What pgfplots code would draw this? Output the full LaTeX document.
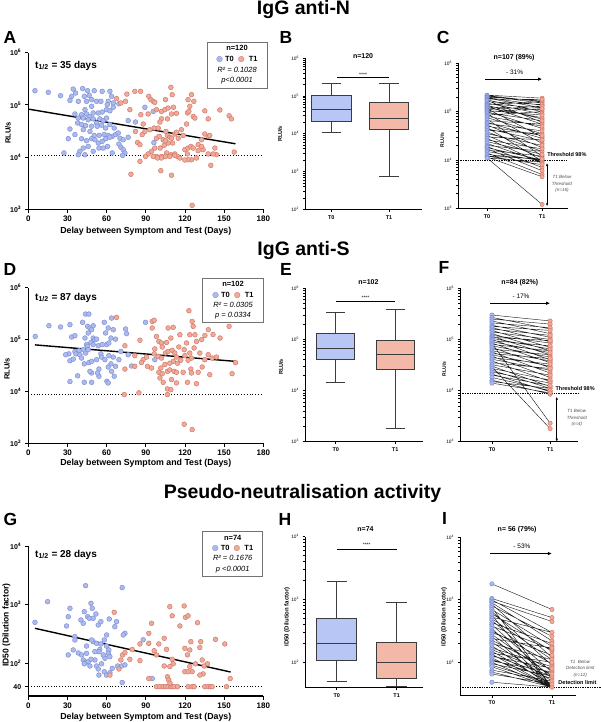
\documentclass[border=0pt]{standalone}
\usepackage{pgfplots}
\pgfplotsset{compat=1.18}
\usepackage{fontspec}
\setmainfont{Liberation Sans}
\newfontfamily\dejavu{DejaVu Sans}
\usetikzlibrary{arrows.meta}
\definecolor{t0fill}{RGB}{172,186,238}
\definecolor{t0edge}{RGB}{122,140,212}
\definecolor{t1fill}{RGB}{240,170,154}
\definecolor{t1edge}{RGB}{208,118,102}
\definecolor{boxt0}{RGB}{183,198,244}
\definecolor{boxt1}{RGB}{243,184,168}
\definecolor{boxedge}{RGB}{60,60,60}
\newcommand\fsz[2]{\fontsize{#1}{#2}\selectfont}
\newcommand\legdot[2]{\makebox[0pt][l]{\dejavu\color{#1}●}{\dejavu\color{#2}○}}
\pgfplotsset{
  prism/.style={scale only axis, anchor=south west, axis lines*=left,
    axis line style={line width=1.3pt,-}, tick style={line width=0.9pt,black},
    tick align=outside, major tick length=3.5pt, minor tick length=1.6pt, clip=false,
    /pgf/number format/assume math mode=true, unbounded coords=jump},
  scat/.style={prism, xmin=0, xmax=180, xtick={0,30,...,180}, yminorticks=false,
    xticklabel style={font=\bfseries\fsz{8}{9}},
    yticklabel style={font=\bfseries\fsz{7}{8}}},
  small/.style={prism, axis line style={line width=1pt,-}, tick style={line width=0.7pt,black},
    major tick length=2.5pt,
    xticklabel style={font=\bfseries\fsz{5.5}{6}},
    yticklabel style={font=\fsz{4.8}{5}}},
  t0mark/.style={only marks, mark=*, mark size=2.4pt, mark options={fill=t0fill, draw=t0edge, line width=0.45pt}},
  t1mark/.style={only marks, mark=*, mark size=2.4pt, mark options={fill=t1fill, draw=t1edge, line width=0.45pt}},
  pairline/.style={black!90, line width=0.42pt, mark=none},
  boxline/.style={draw=boxedge, line width=0.9pt, mark=none},
  regline/.style={black, line width=1.4pt, mark=none},
  thr/.style={black, dotted, line width=0.8pt, mark=none},
  thrs/.style={black, dash pattern=on 1.4pt off 1pt, line width=0.6pt, mark=none},
}
\begin{document}
\begin{tikzpicture}
\path[use as bounding box] (0,0) rectangle (600pt,-722pt);
% ---------- titles and panel letters ----------
\node[anchor=base, font=\bfseries\fsz{19.5}{22}] at (303.5pt,-15pt) {IgG anti-N};
\node[anchor=base, font=\bfseries\fsz{19.5}{22}] at (303.5pt,-255pt) {IgG anti-S};
\node[anchor=base, font=\bfseries\fsz{19.5}{22}] at (302.5pt,-498pt) {Pseudo-neutralisation activity};
\foreach \L/\x/\y in {A/3.3/43.3, B/279.3/43.3, C/436.7/43.3, D/3.3/275, E/280/275, F/438.3/273.3, G/3.3/525, H/278.3/525, I/442/524}
  \node[anchor=base west, inner sep=0pt, font=\bfseries\fsz{17.5}{20}] at (\x pt,-\y pt) {\L};
% ---------- axis labels ----------
\foreach \y in {231,463,717}
  \node[font=\bfseries\fsz{8.8}{10}] at (145.8pt,-\y pt) {Delay between Symptom and Test (Days)};
\node[rotate=90, font=\bfseries\fsz{7.5}{8}] at (8pt,-133pt) {RLU/s};
\node[rotate=90, font=\bfseries\fsz{7.5}{8}] at (7pt,-369pt) {RLU/s};
\node[rotate=90, font=\bfseries\fsz{8.5}{9}] at (6.5pt,-625pt) {ID50 (Dilution factor)};
\node[rotate=90, font=\bfseries\fsz{5.5}{6}] at (280pt,-134pt) {RLU/s};
\node[rotate=90, font=\bfseries\fsz{5.5}{6}] at (281pt,-367pt) {RLU/s};
\node[rotate=90, font=\bfseries\fsz{6}{7}] at (287pt,-617pt) {ID50 (Dilution factor)};
\node[rotate=90, font=\bfseries\fsz{5}{6}] at (442pt,-140pt) {RLU/s};
\node[rotate=90, font=\bfseries\fsz{5}{6}] at (444pt,-369pt) {RLU/s};
\node[rotate=90, font=\bfseries\fsz{6}{7}] at (444pt,-617pt) {ID50 (Dilution factor)};
% ---------- t1/2 and legends ----------
\node[anchor=base west, inner sep=0pt, font=\bfseries\fsz{10}{12}] at (35pt,-68.3pt) {t\textsubscript{1/2} = 35 days};
\node[anchor=base west, inner sep=0pt, font=\bfseries\fsz{10}{12}] at (35pt,-300pt) {t\textsubscript{1/2} = 87 days};
\node[anchor=base west, inner sep=0pt, font=\bfseries\fsz{10}{12}] at (35pt,-557.3pt) {t\textsubscript{1/2} = 28 days};
\node[draw=black!55, line width=0.7pt, fill=white, align=center, inner sep=1pt, minimum width=60pt, minimum height=46pt, font=\fsz{7.5}{10.6}] at (237pt,-65pt)
  {\textbf{n=120}\\ \legdot{t0fill}{t0edge}\ \textbf{T0}\ \ \legdot{t1fill}{t1edge}\ \ \textbf{T1}\\ \textit{R² = 0.1028}\\ \textit{p<0.0001}};
\node[draw=black!55, line width=0.7pt, fill=white, align=center, inner sep=1pt, minimum width=60.6pt, minimum height=44.4pt, font=\fsz{7.5}{10.4}] at (233pt,-300.5pt)
  {\textbf{n=102}\\ \legdot{t0fill}{t0edge}\ \textbf{T0}\ \ \legdot{t1fill}{t1edge}\ \ \textbf{T1}\\ \textit{R² = 0.0305}\\ \textit{p = 0.0334}};
\node[draw=black!55, line width=0.7pt, fill=white, align=center, inner sep=1pt, minimum width=60pt, minimum height=44.3pt, font=\fsz{7.5}{10.4}] at (232.7pt,-553.8pt)
  {\textbf{n=74}\\ \legdot{t0fill}{t0edge}\ \textbf{T0}\ \ \legdot{t1fill}{t1edge}\ \ \textbf{T1}\\ \textit{R² = 0.1676}\\ \textit{p <0.0001}};

% ================= A =================
\begin{axis}[scat, at={(28.3pt,-209.3pt)}, width=235pt, height=156.6pt,
  ymode=log, ymin=1e3, ymax=1e6, ytick={1e3,1e4,1e5,1e6},
  yticklabels={10\textsuperscript{3},10\textsuperscript{4},10\textsuperscript{5},10\textsuperscript{6}}]
\addplot[thr] coordinates {(0,1.07e4) (180,1.07e4)};
\addplot[t0mark] coordinates {(5.1,1.87e5) (15.3,1.74e5) (24.7,1.50e5) (34.4,2.01e5) (41.6,2.05e5) (45.4,1.87e5) (50.5,1.87e5) (56.6,1.82e5) (62.5,1.82e5) (33.2,1.46e5) (36.2,1.69e5) (31.9,1.22e5) (38.3,1.17e5) (42.9,1.46e5) (44.6,1.17e5) (46.7,1.52e5) (48.5,1.26e5) (52.3,1.17e5) (55.6,1.17e5) (61.2,1.17e5) (63.8,1.46e5) (65.1,1.09e5) (60.5,1.01e5) (69.4,1.05e5) (48.5,9.4e4) (43.4,8.1e4) (40.8,6.5e4) (44.6,6.7e4) (47.2,6.0e4) (49.7,7.0e4) (53.6,7.0e4) (56.6,7.3e4) (59.9,8.1e4) (62.5,7.7e4) (65.1,9.0e4) (35.7,6.7e4) (38.3,5.6e4) (42.1,5.6e4) (45.9,5.2e4) (49.7,5.4e4) (52.3,4.5e4) (54.8,5.4e4) (57.4,5.0e4) (59.9,5.6e4) (37.8,4.5e4) (40.8,4.2e4) (43.9,4.0e4) (48.5,3.9e4) (52.8,3.9e4) (56.1,4.1e4) (59.2,3.6e4) (62.5,4.2e4) (65.8,3.6e4) (31.9,3.45e4) (35.7,2.7e4) (42.1,3.35e4) (47.2,3.1e4) (50.5,2.6e4) (54.3,2.6e4) (58.2,2.7e4) (61.2,2.6e4) (64.3,2.5e4) (66.8,2.7e4) (68.9,2.9e4) (76.5,5.0e4) (82.1,4.7e4) (89.3,9.0e4) (95.7,7.5e4) (30.6,2.25e4) (40.8,2.25e4) (44.6,2.06e4) (48.5,2.25e4) (51,2.15e4) (53.6,1.86e4) (56.6,2.0e4) (59.4,2.25e4) (62.5,2.4e4) (70.2,2.3e4) (72.7,2.15e4) (45.9,1.6e4) (42.1,1.49e4) (39.5,1.29e4) (38.3,1.11e4) (43.4,1.11e4) (27.3,1.2e4) (49.7,1.29e4) (54.1,1.49e4) (57.4,1.49e4) (60.7,1.6e4) (64.3,1.2e4) (69.4,1.78e4) (70.9,1.54e4) (72.7,1.39e4) (74,1.2e4) (72.2,1.08e4) (76.5,2.4e4) (96.2,1.9e4)};
\addplot[t1mark] coordinates {(67.6,1.32e5) (70.9,1.09e5) (74.5,1.17e5) (75.5,1.61e5) (81.6,1.82e5) (86,1.82e5) (77.8,8.1e4) (86.2,6.5e4) (88,4.3e4) (82.1,3.1e4) (87.2,2.7e4) (83.7,1.9e4) (92.3,1.46e5) (93.9,1.26e5) (95.7,1.17e5) (96.9,1.12e5) (98.2,8.1e4) (102,7.5e4) (104.6,8.1e4) (107.1,8.7e4) (109.2,2.17e5) (110.2,1.57e5) (105.1,1.26e5) (111.2,9.0e4) (113.5,6.9e4) (109.7,6.7e4) (106.6,5.4e4) (102,5.4e4) (100.8,4.7e4) (96.4,3.6e4) (98.2,2.3e4) (100.3,2.5e4) (103.3,2.15e4) (105.4,3.1e4) (106.6,2.6e4) (108.4,2.4e4) (109.7,2.3e4) (112.2,2.77e4) (113.5,3.0e4) (110.5,1.86e4) (107.1,1.86e4) (104.1,1.68e4) (101,1.49e4) (96.9,1.49e4) (94.4,1.29e4) (98.2,1.03e4) (102,1.03e4) (105.9,1.2e4) (109.2,1.11e4) (112.2,1.15e4) (114.3,1.03e4) (117.3,3.35e4) (118.6,2.6e4) (121.2,4.3e4) (122.4,1.26e5) (123.7,9.4e4) (121.9,7.0e4) (125,1.57e5) (126.8,1.17e5) (126.3,6.0e4) (127.6,5.6e4) (123,7.5e4) (119.9,1.39e4) (122.4,1.49e4) (124.5,1.6e4) (126.3,1.49e4) (130.1,1.73e4) (132.7,2.15e4) (135.2,2.77e4) (137.8,2.5e4) (139,2.6e4) (142.9,1.49e4) (144.1,1.11e4) (141.6,1.15e4) (137.8,1.15e4) (133.9,1.39e4) (128.8,9.6e3) (125,8.9e3) (122.4,8.9e3) (119.9,8.8e3) (116.1,9.6e3) (112.2,1.08e4) (108.4,1.03e4) (105.1,1.03e4) (102,9.6e3) (99,9.6e3) (95.7,1.03e4) (91.8,1.15e4) (89.8,1.03e4) (85.5,8.3e3) (78.6,4.7e3) (101.5,5.5e3) (109.7,4.5e3) (125.5,1.19e3) (139.8,6.95e3) (135.2,7.7e4) (137.8,5.4e4) (146.7,8.0e4) (153.8,6.2e4) (155.6,5.4e4) (157.7,1.25e4) (121.9,1.15e4) (132.7,1.6e4) (130.1,1.33e4) (114.8,2.3e4) (105.1,2.06e4) (93.1,3.35e4) (99.5,3.6e4) (91.8,6.7e4) (89.3,3.1e4) (85.5,1.73e4)};
\addplot[regline] coordinates {(0,8.3e4) (158.7,1.8e4)};
\end{axis}

% ================= D =================
\begin{axis}[scat, at={(28.3pt,-443.3pt)}, width=235pt, height=155.6pt,
  ymode=log, ymin=1e3, ymax=1e6, ytick={1e3,1e4,1e5,1e6},
  yticklabels={10\textsuperscript{3},10\textsuperscript{4},10\textsuperscript{5},10\textsuperscript{6}}]
\addplot[thr] coordinates {(0,8.8e3) (180,8.8e3)};
\addplot[t0mark] coordinates {(5.3,1.15e5) (15.8,1.85e5) (24.7,1.75e5) (31.9,1.94e5) (33.2,1.12e5) (35.7,1.19e5) (41.6,2.15e5) (43.9,3.1e5) (46.4,3.1e5) (45.4,1.8e5) (47.2,1.67e5) (48.5,1.55e5) (49.7,1.85e5) (45.9,1.34e5) (43.4,1.07e5) (49.7,1.07e5) (51,9.96e4) (52.3,1.02e5) (48,8.8e4) (44.6,8.0e4) (45.4,7.4e4) (42.1,6.4e4) (38.8,6.1e4) (35.7,5.9e4) (31.1,5.3e4) (28.6,5.1e4) (36.5,5.3e4) (39.5,5.1e4) (43.9,5.5e4) (45.9,6.4e4) (49.7,8.0e4) (53.6,7.6e4) (56.6,8.0e4) (59.9,8.0e4) (61.7,8.6e4) (63.8,2.6e5) (58.2,2.15e5) (61.2,1.67e5) (59.2,1.34e5) (65.1,1.55e5) (63.3,1.07e5) (66.8,1.02e5) (70.9,5.9e4) (76.5,5.1e4) (75.3,1.3e5) (74.5,1.6e5) (89.8,2.15e5) (55.6,5.3e4) (56.1,4.6e4) (61.7,4.9e4) (65.1,4.6e4) (31.9,3.9e4) (34.4,4.2e4) (40.8,4.4e4) (42.9,3.4e4) (46.4,3.6e4) (48.5,3.8e4) (52.3,4.1e4) (58.7,4.1e4) (63.3,3.4e4) (66.8,3.05e4) (69.4,4.1e4) (79.1,3.1e4) (96.9,4.1e4) (54.1,2.7e4) (61.2,2.96e4) (63.8,2.44e4) (65.8,1.96e4) (60.2,1.57e4) (61.2,1.46e4) (54.1,1.96e4) (48.5,2.27e4) (42.9,1.5e4) (37.8,2.0e4) (31.9,1.55e4) (48.5,1.5e4) (53.1,2.27e4) (47.2,2.44e4)};
\addplot[t1mark] coordinates {(67.6,2.68e5) (74,7.6e4) (81.6,4.9e4) (74,2.7e4) (73.5,8.7e3) (84.7,9.4e3) (85.5,9.7e4) (88,4.1e4) (90.6,4.6e4) (94.9,2.24e5) (96.4,2.35e5) (94.9,1.67e5) (98.2,1.15e5) (100,9.2e4) (102,8.6e4) (105.9,8.8e4) (109.2,1.07e5) (111,1.72e5) (107.1,1.67e5) (102.6,7.2e4) (96.9,6.6e4) (96.4,5.3e4) (99.5,4.75e4) (102,4.4e4) (105.1,5.5e4) (107.1,5.9e4) (110.2,6.2e4) (112.2,5.5e4) (113.5,4.6e4) (115.3,7.2e4) (116.1,1.24e5) (119.4,6.4e4) (121.2,8.6e4) (123.7,1.24e5) (123,3.6e5) (125.5,2.24e5) (126.3,1.8e5) (127.6,1.24e5) (128.8,9.2e4) (131.4,5.5e4) (127,6.9e4) (123.7,5.5e4) (125,4.4e4) (122.4,4.0e4) (119.9,4.9e4) (116.8,4.0e4) (114.3,3.5e4) (111,3.8e4) (108.4,3.5e4) (104.6,3.3e4) (101.5,2.83e4) (100,2.34e4) (102.6,2.2e4) (106.6,2.44e4) (108.4,2.6e4) (111.7,2.44e4) (113.5,2.34e4) (118.6,2.34e4) (124.5,2.7e4) (125,2.27e4) (130.1,2.34e4) (133.2,2.96e4) (135.2,4.1e4) (137.8,5.1e4) (140.8,4.4e4) (144.1,4.6e4) (146.9,1.07e5) (153.8,1.8e5) (158.7,3.6e4) (156.1,2.2e4) (139,2.1e4) (128.8,1.41e4) (121.9,1.5e4) (113.5,1.46e4) (109.7,1.69e4) (106.6,1.12e4) (109.2,1.08e4) (103.3,1.5e4) (100.8,1.82e4) (94.4,2.83e4) (91.3,3.05e4) (86.7,3.6e4) (81.6,3.05e4) (119.4,2.33e3) (125.5,1.84e3) (106.6,8.7e3) (132.8,1.0e5) (135.3,1.2e5) (137.9,1.55e5) (141.5,1.25e5)};
\addplot[regline] coordinates {(5.1,7.9e4) (158.7,3.8e4)};
\end{axis}

% ================= G =================
\begin{axis}[scat, at={(28.3pt,-696pt)}, width=235pt, height=150pt,
  ymode=log, ymin=27.7, ymax=1e4, ytick={40,100,1000,10000},
  yticklabels={40,10\textsuperscript{2},10\textsuperscript{3},10\textsuperscript{4}}]
\addplot[thr] coordinates {(0,40) (180,40)};
\addplot[t0mark] coordinates {(5.1,500) (14.8,1125) (29.3,433) (30.6,624) (31.9,867) (35.7,285) (34.4,169) (30.6,139) (40.3,548) (42.1,481) (42.9,760) (43.9,2110) (45.4,624) (46.7,585) (48,1054) (49,867) (49.7,585) (51.8,693) (53.6,450) (55.6,513) (62,570) (67.6,513) (66.3,422) (60,304) (71.9,1950) (74,325) (72.7,304) (49.7,234) (44.6,197) (48.5,250) (52.3,219) (55.6,214) (54.8,173) (58.2,250) (59.9,197) (61.7,169) (61.2,148) (62.5,130) (58.7,122) (54.1,158) (51,158) (42.1,114) (43.9,103) (45.9,107) (47.2,90) (42.9,98) (52.3,90) (53.6,80) (54.1,63) (58.2,72) (59.9,63) (62.5,69) (64.3,82) (68.4,90) (71.4,90) (74,94) (71.9,47) (88,252) (94.9,55) (35.7,250) (38.3,150) (40.8,139) (44.6,148) (57.4,139) (51,114) (56.1,98) (48,117)};
\addplot[t1mark] coordinates {(65.8,740) (62.5,63) (69.4,80) (70.9,114) (72.2,139) (74,152) (77.8,117) (79.6,172) (85.5,111) (85.5,214) (92.3,219) (92.3,325) (94.4,481) (96.4,164) (98.2,139) (100,214) (104.1,267) (104.1,90) (105.9,173) (108.4,925) (110.2,646) (116.1,433) (119.4,950) (120.4,609) (122.4,646) (124.5,234) (123.7,169) (121.9,139) (119.9,180) (119.9,72) (110.2,117) (111,98) (108.4,88) (123.7,88) (125.5,72) (122.4,72) (128,98) (129.6,493) (132.1,234) (131.4,186) (133.2,114) (134.7,90) (133.9,66) (131.4,63) (137.2,98) (143.4,256) (150.5,214) (154.6,55) (92.3,55) (98.2,40) (100.8,40) (103.3,40) (105.1,40) (107.1,40) (109.2,40) (110.2,40) (111.7,40) (114.3,40) (122.4,40) (125.5,40) (127,40) (135.2,40) (137.8,40) (139.8,40) (140.8,40) (151.8,40) (106.6,59) (107.5,52) (108.5,46)};
\addplot[regline] coordinates {(5.1,395) (155,71)};
\end{axis}

% ================= B =================
\begin{axis}[small, at={(305pt,-209.3pt)}, width=117pt, height=151pt,
  xmin=0.544, xmax=2.57, xtick={1,2}, xticklabels={T0,T1},
  ymode=log, ymin=1e2, ymax=1e6, ytick={1e2,1e3,1e4,1e5,1e6},
  yticklabels={10\textsuperscript{2},10\textsuperscript{3},10\textsuperscript{4},10\textsuperscript{5},10\textsuperscript{6}}]
\addplot[boxline] coordinates {(1,1.03e5) (1,2.18e5) (nan,nan) (0.83,2.18e5) (1.17,2.18e5) (nan,nan) (1,2.19e4) (1,1.1e4) (nan,nan) (0.83,1.1e4) (1.17,1.1e4)};
\addplot[boxline, fill=boxt0] coordinates {(0.66,2.19e4) (1.34,2.19e4) (1.34,1.03e5) (0.66,1.03e5)} -- cycle;
\addplot[boxline] coordinates {(0.66,4.46e4) (1.34,4.46e4)};
\addplot[boxline] coordinates {(2,6.7e4) (2,2.18e5) (nan,nan) (1.83,2.18e5) (2.17,2.18e5) (nan,nan) (2,1.34e4) (2,733) (nan,nan) (1.83,733) (2.17,733)};
\addplot[boxline, fill=boxt1] coordinates {(1.66,1.34e4) (2.34,1.34e4) (2.34,6.7e4) (1.66,6.7e4)} -- cycle;
\addplot[boxline] coordinates {(1.66,2.57e4) (2.34,2.57e4)};
\addplot[black, line width=0.7pt, mark=none] coordinates {(1.1,3.08e5) (2,3.08e5)};
\node[font=\fsz{5}{5}] at (axis cs:1.55,3.6e5) {****};
\node[font=\bfseries\fsz{7}{8}] at (axis cs:1.55,1.15e6) {n=120};
\end{axis}

% ================= E =================
\begin{axis}[small, at={(305pt,-441.7pt)}, width=118pt, height=153.4pt,
  xmin=0.48, xmax=2.47, xtick={1,2}, xticklabels={T0,T1},
  ymode=log, ymin=1e3, ymax=1e6, ytick={1e3,1e4,1e5,1e6},
  yticklabels={10\textsuperscript{3},10\textsuperscript{4},10\textsuperscript{5},10\textsuperscript{6}}]
\addplot[boxline] coordinates {(1,1.3e5) (1,3.3e5) (nan,nan) (0.84,3.3e5) (1.16,3.3e5) (nan,nan) (1,4.0e4) (1,1.45e4) (nan,nan) (0.84,1.45e4) (1.16,1.45e4)};
\addplot[boxline, fill=boxt0] coordinates {(0.68,4.0e4) (1.32,4.0e4) (1.32,1.3e5) (0.68,1.3e5)} -- cycle;
\addplot[boxline] coordinates {(0.68,6.6e4) (1.32,6.6e4)};
\addplot[boxline] coordinates {(2,9.5e4) (2,3.8e5) (nan,nan) (1.84,3.8e5) (2.16,3.8e5) (nan,nan) (2,2.6e4) (2,1.85e3) (nan,nan) (1.84,1.85e3) (2.16,1.85e3)};
\addplot[boxline, fill=boxt1] coordinates {(1.68,2.6e4) (2.32,2.6e4) (2.32,9.5e4) (1.68,9.5e4)} -- cycle;
\addplot[boxline] coordinates {(1.68,5.0e4) (2.32,5.0e4)};
\addplot[black, line width=0.7pt, mark=none] coordinates {(1,5.5e5) (2,5.5e5)};
\node[font=\fsz{5}{5}] at (axis cs:1.5,6.5e5) {****};
\node[font=\bfseries\fsz{7}{8}] at (axis cs:1.55,1.3e6) {n=102};
\end{axis}

% ================= H =================
\begin{axis}[small, at={(305pt,-687.8pt)}, width=118pt, height=151.1pt,
  xmin=0.47, xmax=2.44, xtick={1,2}, xticklabels={T0,T1},
  ymode=log, ymin=40, ymax=1e4, ytick={100,1000,10000},
  yticklabels={10\textsuperscript{2},10\textsuperscript{3},10\textsuperscript{4}}]
\addplot[boxline] coordinates {(1,500) (1,1940) (nan,nan) (0.83,1940) (1.17,1940) (nan,nan) (1,107) (1,50) (nan,nan) (0.83,50) (1.17,50)};
\addplot[boxline, fill=boxt0] coordinates {(0.665,107) (1.335,107) (1.335,500) (0.665,500)} -- cycle;
\addplot[boxline] coordinates {(0.665,200) (1.335,200)};
\addplot[boxline] coordinates {(2,210) (2,890) (nan,nan) (1.83,890) (2.17,890) (nan,nan) (2,57) (2,42) (nan,nan) (1.83,42) (2.17,42)};
\addplot[boxline, fill=boxt1] coordinates {(1.665,57) (2.335,57) (2.335,210) (1.665,210)} -- cycle;
\addplot[boxline] coordinates {(1.665,101) (2.335,101)};
\addplot[black, line width=0.7pt, mark=none] coordinates {(1,6300) (2,6300)};
\node[font=\fsz{5}{5}] at (axis cs:1.5,7400) {****};
\node[font=\bfseries\fsz{7}{8}] at (axis cs:1.48,1.3e4) {n=74};
\end{axis}

% ================= C =================
\begin{axis}[small, at={(458pt,-208.3pt)}, width=110pt, height=145pt,
  xmin=-0.527, xmax=1.47, xtick={0,1}, xticklabels={T0,T1},
  ymode=log, ymin=1e3, ymax=1e6, ytick={1e3,1e4,1e5,1e6},
  yticklabels={10\textsuperscript{3},10\textsuperscript{4},10\textsuperscript{5},10\textsuperscript{6}}]
\addplot[thrs] coordinates {(-0.527,1e4) (1.47,1e4)};
\addplot[pairline] coordinates {(0,2.2e5)(1,1.9e5) (nan,nan) (0,2.15e5)(1,1.6e5) (nan,nan) (0,2.1e5)(1,1.5e5) (nan,nan) (0,2.0e5)(1,1.7e5) (nan,nan) (0,1.95e5)(1,1.35e5) (nan,nan) (0,1.9e5)(1,1.2e5) (nan,nan) (0,1.8e5)(1,1.8e5) (nan,nan) (0,1.75e5)(1,1.0e5) (nan,nan) (0,1.7e5)(1,6.0e4) (nan,nan) (0,1.6e5)(1,1.4e5) (nan,nan) (0,1.5e5)(1,9.0e4) (nan,nan) (0,1.45e5)(1,1.2e5) (nan,nan) (0,1.4e5)(1,1.6e5) (nan,nan) (0,1.35e5)(1,7.0e4) (nan,nan) (0,1.3e5)(1,5.5e4) (nan,nan) (0,1.25e5)(1,1.1e5) (nan,nan) (0,1.2e5)(1,7.5e4) (nan,nan) (0,1.15e5)(1,3.0e4) (nan,nan) (0,1.1e5)(1,1.3e5) (nan,nan) (0,1.05e5)(1,8.5e4) (nan,nan) (0,1.0e5)(1,4.5e4) (nan,nan) (0,1.0e5)(1,1.15e5) (nan,nan) (0,9.5e4)(1,6.5e4) (nan,nan) (0,9.0e4)(1,2.2e4) (nan,nan) (0,8.5e4)(1,1.0e5) (nan,nan) (0,8.0e4)(1,5.0e4) (nan,nan) (0,7.5e4)(1,3.5e4) (nan,nan) (0,7.0e4)(1,1.2e4) (nan,nan) (0,6.5e4)(1,5.5e4) (nan,nan) (0,6.0e4)(1,2.8e4) (nan,nan) (0,5.7e4)(1,4.0e4) (nan,nan) (0,5.3e4)(1,1.8e4) (nan,nan) (0,5.0e4)(1,3.2e4) (nan,nan) (0,4.7e4)(1,9.5e3) (nan,nan) (0,4.4e4)(1,2.5e4) (nan,nan) (0,4.1e4)(1,3.5e4) (nan,nan) (0,3.8e4)(1,1.5e4) (nan,nan) (0,3.5e4)(1,2.0e4) (nan,nan) (0,3.2e4)(1,1.1e4) (nan,nan) (0,3.0e4)(1,2.6e4) (nan,nan) (0,2.8e4)(1,8.5e3) (nan,nan) (0,2.6e4)(1,1.7e4) (nan,nan) (0,2.4e4)(1,1.3e4) (nan,nan) (0,2.2e4)(1,9.0e3) (nan,nan) (0,2.0e4)(1,1.5e4) (nan,nan) (0,1.9e4)(1,7.0e3) (nan,nan) (0,1.8e4)(1,1.0e4) (nan,nan) (0,1.7e4)(1,6.0e3) (nan,nan) (0,1.6e4)(1,1.2e4) (nan,nan) (0,1.5e4)(1,9.5e3) (nan,nan) (0,1.4e4)(1,5.0e3) (nan,nan) (0,1.3e4)(1,1.0e4) (nan,nan) (0,1.2e4)(1,8.0e3) (nan,nan) (0,1.15e4)(1,4.5e3) (nan,nan) (0,1.1e4)(1,9.0e3) (nan,nan) (0,1.1e4)(1,1.2e3) (nan,nan) (0,1.2e4)(1,1.05e4)};
\addplot[t0mark, mark size=2.1pt] coordinates {(0,2.2e5) (0,2.15e5) (0,2.1e5) (0,2.0e5) (0,1.95e5) (0,1.9e5) (0,1.8e5) (0,1.75e5) (0,1.7e5) (0,1.6e5) (0,1.5e5) (0,1.45e5) (0,1.4e5) (0,1.35e5) (0,1.3e5) (0,1.25e5) (0,1.2e5) (0,1.15e5) (0,1.1e5) (0,1.05e5) (0,1.0e5) (0,9.5e4) (0,9.0e4) (0,8.5e4) (0,8.0e4) (0,7.5e4) (0,7.0e4) (0,6.5e4) (0,6.0e4) (0,5.7e4) (0,5.3e4) (0,5.0e4) (0,4.7e4) (0,4.4e4) (0,4.1e4) (0,3.8e4) (0,3.5e4) (0,3.2e4) (0,3.0e4) (0,2.8e4) (0,2.6e4) (0,2.4e4) (0,2.2e4) (0,2.0e4) (0,1.9e4) (0,1.8e4) (0,1.7e4) (0,1.6e4) (0,1.5e4) (0,1.4e4) (0,1.3e4) (0,1.2e4) (0,1.15e4) (0,1.1e4)};
\addplot[t1mark, mark size=2.1pt] coordinates {(1,1.9e5) (1,1.6e5) (1,1.5e5) (1,1.7e5) (1,1.35e5) (1,1.2e5) (1,1.8e5) (1,1.0e5) (1,6.0e4) (1,1.4e5) (1,9.0e4) (1,7.0e4) (1,5.5e4) (1,1.1e5) (1,7.5e4) (1,3.0e4) (1,1.3e5) (1,8.5e4) (1,4.5e4) (1,1.15e5) (1,6.5e4) (1,2.2e4) (1,5.0e4) (1,3.5e4) (1,1.2e4) (1,2.8e4) (1,4.0e4) (1,1.8e4) (1,3.2e4) (1,9.5e3) (1,2.5e4) (1,1.5e4) (1,2.0e4) (1,1.1e4) (1,2.6e4) (1,8.5e3) (1,1.7e4) (1,1.3e4) (1,9.0e3) (1,7.0e3) (1,1.0e4) (1,6.0e3) (1,5.0e3) (1,8.0e3) (1,4.5e3) (1,1.2e3) (1,1.05e4)};
\addplot[-{Latex[length=4pt,width=3.5pt]}, line width=1pt, mark=none] coordinates {(-0.03,4.7e5) (1,4.7e5)};
\node[font=\fsz{6.5}{7}] at (axis cs:0.5,6.6e5) {- 31\%};
\node[font=\bfseries\fsz{7}{8}] at (axis cs:0.49,1.3e6) {n=107 (89\%)};
\node[anchor=west, inner sep=0pt, font=\bfseries\fsz{5.5}{6}] at (axis cs:1.09,1.27e4) {Threshold 98\%};
\addplot[{Latex[length=3pt,width=2.5pt]}-{Latex[length=3pt,width=2.5pt]}, line width=0.8pt, mark=none] coordinates {(1.09,8.65e3) (1.09,1.1e3)};
\node[align=center, font=\itshape\fsz{4.5}{6.5}, text=black!70] at (axis cs:1.36,3.2e3) {T1 Below\\Threshold\\(n=16)};
\end{axis}

% ================= F =================
\begin{axis}[small, at={(460pt,-441.7pt)}, width=118pt, height=153.4pt,
  xmin=-0.55, xmax=1.48, xtick={0,1}, xticklabels={T0,T1},
  ymode=log, ymin=1e3, ymax=1e6, ytick={1e3,1e4,1e5,1e6},
  yticklabels={10\textsuperscript{3},10\textsuperscript{4},10\textsuperscript{5},10\textsuperscript{6}}]
\addplot[thrs] coordinates {(-0.55,8.8e3) (1.48,8.8e3)};
\addplot[pairline] coordinates {(0,3.0e5)(1,2.3e5) (nan,nan) (0,2.7e5)(1,1.6e5) (nan,nan) (0,2.5e5)(1,2.0e5) (nan,nan) (0,2.3e5)(1,1.3e5) (nan,nan) (0,2.1e5)(1,1.7e5) (nan,nan) (0,1.9e5)(1,1.1e5) (nan,nan) (0,1.8e5)(1,1.5e5) (nan,nan) (0,1.7e5)(1,9.0e4) (nan,nan) (0,1.6e5)(1,1.2e5) (nan,nan) (0,1.5e5)(1,7.0e4) (nan,nan) (0,1.4e5)(1,1.0e5) (nan,nan) (0,1.3e5)(1,6.0e4) (nan,nan) (0,1.2e5)(1,8.5e4) (nan,nan) (0,1.15e5)(1,5.0e4) (nan,nan) (0,1.1e5)(1,9.5e4) (nan,nan) (0,1.05e5)(1,6.5e4) (nan,nan) (0,1.0e5)(1,4.0e4) (nan,nan) (0,9.5e4)(1,7.5e4) (nan,nan) (0,8.4e4)(1,2.3e3) (nan,nan) (0,9.0e4)(1,5.5e4) (nan,nan) (0,8.5e4)(1,3.5e4) (nan,nan) (0,8.0e4)(1,6.0e4) (nan,nan) (0,7.5e4)(1,4.5e4) (nan,nan) (0,7.0e4)(1,2.8e4) (nan,nan) (0,6.5e4)(1,5.0e4) (nan,nan) (0,6.0e4)(1,3.8e4) (nan,nan) (0,5.7e4)(1,2.2e4) (nan,nan) (0,5.3e4)(1,4.2e4) (nan,nan) (0,5.0e4)(1,3.0e4) (nan,nan) (0,4.7e4)(1,1.8e4) (nan,nan) (0,4.4e4)(1,3.3e4) (nan,nan) (0,4.1e4)(1,2.5e4) (nan,nan) (0,3.8e4)(1,1.5e4) (nan,nan) (0,3.5e4)(1,2.7e4) (nan,nan) (0,3.2e4)(1,2.0e4) (nan,nan) (0,2.9e4)(1,1.8e3) (nan,nan) (0,3.0e4)(1,1.2e4) (nan,nan) (0,2.7e4)(1,1.6e4) (nan,nan) (0,2.5e4)(1,1.1e4) (nan,nan) (0,2.3e4)(1,1.4e4) (nan,nan) (0,2.1e4)(1,9.5e3) (nan,nan) (0,2.0e4)(1,1.25e4) (nan,nan) (0,1.8e4)(1,1.0e4) (nan,nan) (0,1.6e4)(1,8.5e3) (nan,nan) (0,1.5e4)(1,1.1e4) (nan,nan) (0,1.4e4)(1,9.0e3)};
\addplot[t0mark, mark size=2.2pt] coordinates {(0,3.0e5) (0,2.7e5) (0,2.5e5) (0,2.3e5) (0,2.1e5) (0,1.9e5) (0,1.8e5) (0,1.7e5) (0,1.6e5) (0,1.5e5) (0,1.4e5) (0,1.3e5) (0,1.2e5) (0,1.15e5) (0,1.1e5) (0,1.05e5) (0,1.0e5) (0,9.5e4) (0,8.4e4) (0,9.0e4) (0,8.5e4) (0,8.0e4) (0,7.5e4) (0,7.0e4) (0,6.5e4) (0,6.0e4) (0,5.7e4) (0,5.3e4) (0,5.0e4) (0,4.7e4) (0,4.4e4) (0,4.1e4) (0,3.8e4) (0,3.5e4) (0,3.2e4) (0,2.9e4) (0,3.0e4) (0,2.7e4) (0,2.5e4) (0,2.3e4) (0,2.1e4) (0,2.0e4) (0,1.8e4) (0,1.6e4) (0,1.5e4) (0,1.4e4)};
\addplot[t1mark, mark size=2.2pt] coordinates {(1,2.3e5) (1,1.6e5) (1,2.0e5) (1,1.3e5) (1,1.7e5) (1,1.1e5) (1,1.5e5) (1,9.0e4) (1,1.2e5) (1,7.0e4) (1,1.0e5) (1,6.0e4) (1,8.5e4) (1,5.0e4) (1,9.5e4) (1,6.5e4) (1,4.0e4) (1,7.5e4) (1,2.3e3) (1,5.5e4) (1,3.5e4) (1,4.5e4) (1,2.8e4) (1,3.8e4) (1,2.2e4) (1,4.2e4) (1,3.0e4) (1,1.8e4) (1,3.3e4) (1,2.5e4) (1,1.5e4) (1,2.7e4) (1,2.0e4) (1,1.8e3) (1,1.2e4) (1,1.6e4) (1,1.1e4) (1,1.4e4) (1,9.5e3) (1,1.25e4) (1,1.0e4) (1,8.5e3) (1,9.0e3)};
\addplot[-{Latex[length=4pt,width=3.5pt]}, line width=1pt, mark=none] coordinates {(-0.03,5.1e5) (1,5.1e5)};
\node[font=\fsz{6.5}{7}] at (axis cs:0.5,6.9e5) {- 17\%};
\node[font=\bfseries\fsz{7}{8}] at (axis cs:0.48,1.29e6) {n=84 (82\%)};
\node[anchor=west, inner sep=0pt, font=\bfseries\fsz{5.5}{6}] at (axis cs:1.09,1.12e4) {Threshold 98\%};
\addplot[{Latex[length=3pt,width=2.5pt]}-{Latex[length=3pt,width=2.5pt]}, line width=0.8pt, mark=none] coordinates {(1.115,7.6e3) (1.115,1.0e3)};
\node[align=center, font=\itshape\fsz{4.5}{6.5}, text=black!70] at (axis cs:1.46,2.9e3) {T1 Below\\Threshold\\(n=4)};
\end{axis}

% ================= I =================
\begin{axis}[small, at={(460pt,-695pt)}, width=116pt, height=157.7pt,
  xmin=-0.53, xmax=1.4, xtick={0,1}, xticklabels={T0,T1},
  ymode=log, ymin=30, ymax=1e4, ytick={100,1000,10000},
  yticklabels={10\textsuperscript{2},10\textsuperscript{3},10\textsuperscript{4}}]
\addplot[thrs] coordinates {(-0.53,40) (1.82,40)};
\addplot[pairline] coordinates {(0,1800)(1,700) (nan,nan) (0,1050)(1,520) (nan,nan) (0,1000)(1,300) (nan,nan) (0,950)(1,450) (nan,nan) (0,900)(1,220) (nan,nan) (0,850)(1,120) (nan,nan) (0,800)(1,260) (nan,nan) (0,750)(1,40) (nan,nan) (0,700)(1,180) (nan,nan) (0,650)(1,90) (nan,nan) (0,600)(1,150) (nan,nan) (0,570)(1,40) (nan,nan) (0,530)(1,300) (nan,nan) (0,500)(1,110) (nan,nan) (0,470)(1,70) (nan,nan) (0,430)(1,200) (nan,nan) (0,400)(1,55) (nan,nan) (0,380)(1,160) (nan,nan) (0,350)(1,40) (nan,nan) (0,320)(1,95) (nan,nan) (0,300)(1,130) (nan,nan) (0,280)(1,60) (nan,nan) (0,260)(1,40) (nan,nan) (0,240)(1,170) (nan,nan) (0,225)(1,75) (nan,nan) (0,210)(1,50) (nan,nan) (0,200)(1,110) (nan,nan) (0,185)(1,40) (nan,nan) (0,170)(1,85) (nan,nan) (0,160)(1,65) (nan,nan) (0,150)(1,45) (nan,nan) (0,140)(1,100) (nan,nan) (0,135)(1,40) (nan,nan) (0,130)(1,60) (nan,nan) (0,125)(1,80) (nan,nan) (0,118)(1,40) (nan,nan) (0,110)(1,55) (nan,nan) (0,105)(1,70) (nan,nan) (0,100)(1,40) (nan,nan) (0,95)(1,60) (nan,nan) (0,90)(1,45) (nan,nan) (0,85)(1,40) (nan,nan) (0,75)(1,50) (nan,nan) (0,70)(1,40) (nan,nan) (0,65)(1,45) (nan,nan) (0,48)(1,40)};
\addplot[t0mark, mark size=2.2pt] coordinates {(0,1800) (0,1050) (0,1000) (0,950) (0,900) (0,850) (0,800) (0,750) (0,700) (0,650) (0,600) (0,570) (0,530) (0,500) (0,470) (0,430) (0,400) (0,380) (0,350) (0,320) (0,300) (0,280) (0,260) (0,240) (0,225) (0,210) (0,200) (0,185) (0,170) (0,160) (0,150) (0,140) (0,135) (0,130) (0,125) (0,118) (0,110) (0,105) (0,100) (0,95) (0,90) (0,85) (0,75) (0,70) (0,65) (0,48)};
\addplot[t1mark, mark size=2.2pt] coordinates {(1,700) (1,520) (1,300) (1,450) (1,220) (1,120) (1,260) (1,40) (1,180) (1,90) (1,150) (1,110) (1,70) (1,200) (1,55) (1,160) (1,95) (1,130) (1,60) (1,170) (1,75) (1,50) (1,85) (1,65) (1,45) (1,100) (1,80)};
\addplot[-{Latex[length=4pt,width=3.5pt]}, line width=1pt, mark=none] coordinates {(-0.03,5.5e3) (1,5.5e3)};
\node[font=\fsz{6.5}{7}] at (axis cs:0.5,7.1e3) {- 53\%};
\node[font=\bfseries\fsz{7}{8}] at (axis cs:0.42,1.3e4) {n= 56 (79\%)};
\node[anchor=west, inner sep=0pt, font=\bfseries\fsz{5.5}{6}] at (axis cs:1.105,47) {Detection limit};
\node[align=center, font=\itshape\fsz{4.5}{6.5}, text=black!70] at (axis cs:1.47,80) {T1\ \ Below\\Detection limit\\(n=12)};
\end{axis}
\end{tikzpicture}
\end{document}
